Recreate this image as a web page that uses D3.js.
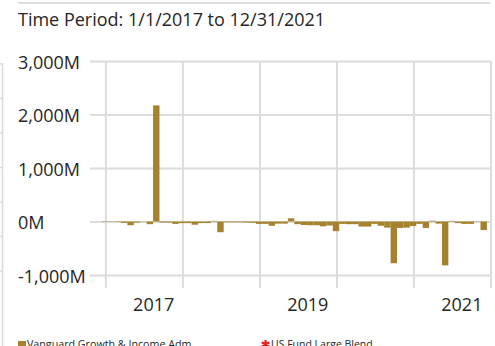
<!DOCTYPE html>
<html>
<head>
<meta charset="utf-8">
<script src="https://cdn.jsdelivr.net/npm/d3@7"></script>
<style>
  html, body { margin: 0; padding: 0; background: #fff; }
  svg { display: block; font-family: "Open Sans", sans-serif; }
</style>
</head>
<body>
<svg id="chart" width="495" height="346"></svg>
<script>
// ---- data ----
const title = "Time Period: 1/1/2017 to 12/31/2021";
const years = [2017, 2018, 2019, 2020, 2021];
const months = years.flatMap(y => d3.range(1, 13).map(m => `${y}-${String(m).padStart(2, "0")}`));
// monthly estimated net flows, millions USD
const netFlows = [
     8,    5,    8,  -25,  -70,  -20,   -5,  -50, 2170,  -20,  -20,  -45,
   -30,  -30,  -60,  -30,  -30,   12, -200,  -15,  -15,  -15,  -20,  -25,
   -45,  -45,  -80,  -40,  -40,   60,  -50,  -65,  -70,  -70,  -90,  -75,
  -180,  -45,  -50,  -50,  -95,  -95,  -45,  -80, -115, -780, -120, -115,
   -85,  -45, -120,   15,  -40, -820,   12,  -30,  -45,  -45,   -5, -160
];
const yTicks = [-1000, 0, 1000, 2000, 3000];
const yearLabels = ["2017", "2019", "2021"];
const yearLabelAt = [8.1, 32.1, 56.1];          // month index of each year label
const yearGridAt = d3.range(0.65, 61, 12);       // month index of vertical gridlines
const seriesNames = ["Vanguard Growth & Income Adm", "US Fund Large Blend"];
const seriesColors = ["#a6822e", "#e32420"];

// ---- layout ----
const svg = d3.select("#chart");
const gridColor = "#dcdcdc";
const textColor = "#262626";
const plot = { left: 101.7, right: 486.9, top: 61, bottom: 275 };
const fmtM = d => d3.format(",")(d).replace("\u2212", "-") + "M";

const x = d3.scaleBand().domain(months).range([plot.left, plot.right]).padding(0);
const xm = d3.scaleLinear().domain([0, months.length]).range([plot.left, plot.right]);
const y = d3.scaleLinear().domain([-1000, 3000]).range([plot.bottom, plot.top]);

// frame pieces
svg.append("line")
  .attr("x1", 18).attr("x2", 490).attr("y1", 3).attr("y2", 3)
  .attr("stroke", gridColor).attr("stroke-width", 2);
svg.append("line")
  .attr("x1", 2.5).attr("x2", 2.5).attr("y1", 63).attr("y2", 346)
  .attr("stroke", gridColor).attr("stroke-width", 1.5);
svg.append("g").selectAll("line")
  .data([64, 98.5, 133, 167.5, 202, 236.5, 271])
  .join("line")
  .attr("x1", 0).attr("x2", 2.5).attr("y1", d => d).attr("y2", d => d)
  .attr("stroke", gridColor).attr("stroke-width", 1.5);

// title
svg.append("text")
  .attr("x", 18).attr("y", 25.5)
  .attr("font-size", 18).attr("fill", textColor)
  .text(title);

// horizontal gridlines
const gy = svg.append("g").attr("transform", "translate(490,0)").call(
  d3.axisLeft(y).tickValues(yTicks).tickSize(490 - 90).tickFormat("")
);
gy.select(".domain").remove();
gy.selectAll(".tick line").attr("stroke", gridColor).attr("stroke-width", 2);

// y labels
svg.append("g").selectAll("text")
  .data(yTicks)
  .join("text")
  .attr("x", 18).attr("y", d => y(d) + 7.5)
  .attr("font-size", 18).attr("fill", textColor)
  .text(fmtM);

// vertical gridlines
svg.append("g").selectAll("line")
  .data(yearGridAt)
  .join("line")
  .attr("x1", d => xm(d)).attr("x2", d => xm(d))
  .attr("y1", plot.top).attr("y2", 288)
  .attr("stroke", gridColor).attr("stroke-width", 2);

// x labels
svg.append("g").selectAll("text")
  .data(yearLabels)
  .join("text")
  .attr("x", (d, i) => xm(yearLabelAt[i])).attr("y", 311)
  .attr("text-anchor", "middle")
  .attr("font-size", 18).attr("fill", textColor)
  .text(d => d);

// bars
svg.append("g").selectAll("rect")
  .data(months.map((m, i) => ({ m, v: netFlows[i] })))
  .join("rect")
  .attr("x", d => x(d.m))
  .attr("width", x.bandwidth())
  .attr("y", d => Math.min(y(d.v), y(0)))
  .attr("height", d => Math.abs(y(d.v) - y(0)))
  .attr("fill", seriesColors[0]);

// legend
const lg = svg.append("g");
lg.append("rect").attr("x", 18).attr("y", 341).attr("width", 8).attr("height", 8)
  .attr("fill", seriesColors[0]);
lg.append("text").attr("x", 27).attr("y", 347.5).attr("font-size", 10.7).attr("fill", textColor)
  .text(seriesNames[0]);
lg.append("path")
  .attr("d", d3.symbol().type(d3.symbolAsterisk).size(55)())
  .attr("transform", "translate(265.5,344.5)")
  .attr("stroke", seriesColors[1]).attr("stroke-width", 2.2).attr("fill", "none");
lg.append("text").attr("x", 271).attr("y", 347.5).attr("font-size", 10.5).attr("fill", textColor)
  .text(seriesNames[1]);
</script>
</body>
</html>
